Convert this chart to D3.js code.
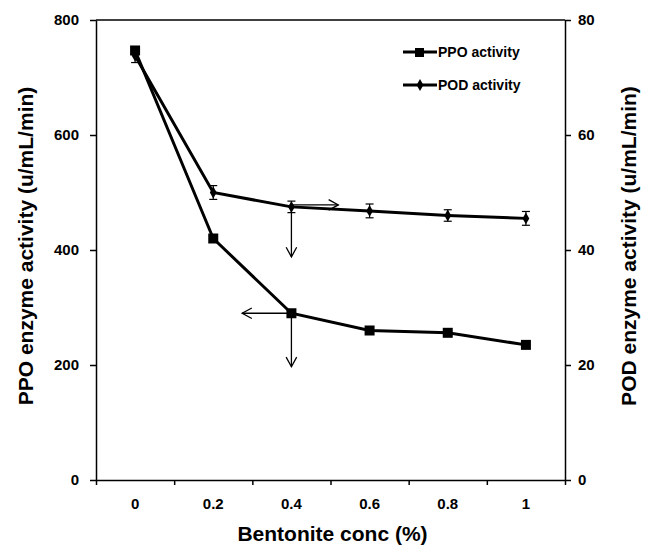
<!DOCTYPE html>
<meta charset="utf-8">
<head>
    <script src="https://d3js.org/d3.v7.min.js"></script>
</head>
<style>
    body { margin: 0; background: white; }
    text { font-family: 'Liberation Sans', Arial, sans-serif; font-weight: bold; }
    .axis-label { font-size: 21px; }
    .legend-label { font-size: 14px; }
</style>
<div id="my_dataviz"></div>
<script>

    // data
    var concs = ["0", "0.2", "0.4", "0.6", "0.8", "1"];
    var ppo = [747, 420, 290, 260, 256, 235];
    var pod = [73.8, 50, 47.5, 46.8, 46, 45.5];
    var podErr = [1.2, 1.2, 1.0, 1.2, 1.0, 1.2];
    var leftTicks = [0, 200, 400, 600, 800];
    var rightTicks = [0, 20, 40, 60, 80];

    var W = 646, H = 549;
    var plotL = 96, plotR = 565, plotT = 20, plotB = 480;

    var svg = d3.select("#my_dataviz")
        .append("svg")
        .attr("width", W)
        .attr("height", H);

    // scales
    var x = d3.scaleBand().domain(concs).range([plotL, plotR]).padding(0);
    var xb = d3.scaleLinear().domain([0, concs.length]).range([plotL, plotR]);
    var yL = d3.scaleLinear().domain([0, 800]).range([plotB, plotT]);
    var yR = d3.scaleLinear().domain([0, 80]).range([plotB, plotT]);
    var cx = function (c) { return x(c) + x.bandwidth() / 2; };

    // frame top line
    svg.append("line")
        .attr("x1", plotL).attr("x2", plotR)
        .attr("y1", plotT).attr("y2", plotT)
        .attr("stroke", "#000").attr("stroke-width", 1.5);

    // left axis
    svg.append("g")
        .attr("transform", "translate(" + plotL + ",0)")
        .call(d3.axisLeft(yL).tickValues(leftTicks).tickSize(6).tickPadding(11).tickSizeOuter(0));
    // right axis
    svg.append("g")
        .attr("transform", "translate(" + plotR + ",0)")
        .call(d3.axisRight(yR).tickValues(rightTicks).tickSize(6).tickPadding(7).tickSizeOuter(0));
    // bottom axis: ticks between categories
    svg.append("g")
        .attr("transform", "translate(0," + plotB + ")")
        .call(d3.axisBottom(xb).tickValues(d3.range(concs.length + 1)).tickFormat("").tickSize(5).tickSizeOuter(0));
    // bottom labels
    svg.append("g")
        .attr("transform", "translate(0," + plotB + ")")
        .call(d3.axisBottom(x).tickSize(0).tickPadding(18))
        .select(".domain").remove();

    svg.selectAll(".domain, .tick line").attr("stroke", "#000").attr("stroke-width", 1.5);
    svg.selectAll(".tick text")
        .attr("fill", "#000")
        .style("font-size", "15px");

    // axis titles
    svg.append("text")
        .attr("class", "axis-label")
        .attr("text-anchor", "middle")
        .attr("x", (plotL + plotR) / 2 + 2)
        .attr("y", 541)
        .text("Bentonite conc (%)");
    svg.append("text")
        .attr("class", "axis-label")
        .attr("text-anchor", "middle")
        .attr("transform", "translate(33,246) rotate(-90)")
        .text("PPO enzyme activity (u/mL/min)");
    svg.append("text")
        .attr("class", "axis-label")
        .attr("text-anchor", "middle")
        .attr("transform", "translate(636,246) rotate(-90)")
        .text("POD enzyme activity (u/mL/min)");

    // lines
    var linePPO = d3.line()
        .x(function (d, i) { return cx(concs[i]); })
        .y(function (d) { return yL(d); });
    var linePOD = d3.line()
        .x(function (d, i) { return cx(concs[i]); })
        .y(function (d) { return yR(d); });

    svg.append("path").datum(pod)
        .attr("d", linePOD)
        .attr("fill", "none").attr("stroke", "#000").attr("stroke-width", 3);
    svg.append("path").datum(ppo)
        .attr("d", linePPO)
        .attr("fill", "none").attr("stroke", "#000").attr("stroke-width", 3);

    // POD error bars
    var eb = svg.append("g").attr("stroke", "#000").attr("stroke-width", 1.2);
    pod.forEach(function (v, i) {
        var xx = cx(concs[i]);
        eb.append("line").attr("x1", xx).attr("x2", xx)
            .attr("y1", yR(v - podErr[i])).attr("y2", yR(v + podErr[i]));
        [v - podErr[i], v + podErr[i]].forEach(function (e) {
            eb.append("line").attr("x1", xx - 4).attr("x2", xx + 4)
                .attr("y1", yR(e)).attr("y2", yR(e));
        });
    });

    // markers
    svg.append("g").selectAll("rect")
        .data(ppo).enter().append("rect")
        .attr("x", function (d, i) { return cx(concs[i]) - 5; })
        .attr("y", function (d) { return yL(d) - 5; })
        .attr("width", 10).attr("height", 10)
        .attr("fill", "#000");
    var diamond = d3.symbol().type(d3.symbolDiamond).size(40);
    svg.append("g").selectAll("path")
        .data(pod).enter().append("path")
        .attr("d", diamond)
        .attr("transform", function (d, i) { return "translate(" + cx(concs[i]) + "," + yR(d) + ")"; })
        .attr("fill", "#000");

    // arrows pointing to the axis each series belongs to
    var arrowCat = "0.4";
    var ppoArrowX = 0.63;   // band fraction to the left
    var ppoArrowY = 197;    // PPO value reached by the down arrow
    var podArrowX = 0.6;    // band fraction to the right
    var podArrowY = 38.8;   // POD value reached by the down arrow

    function arrow(x1, y1, x2, y2) {
        var g = svg.append("g").attr("stroke", "#000").attr("stroke-width", 1.3).attr("fill", "none");
        g.append("line").attr("x1", x1).attr("y1", y1).attr("x2", x2).attr("y2", y2);
        var a = Math.atan2(y2 - y1, x2 - x1), L = 11, s = 0.5;
        g.append("path").attr("d",
            "M" + (x2 - L * Math.cos(a - s)) + "," + (y2 - L * Math.sin(a - s)) +
            "L" + x2 + "," + y2 +
            "L" + (x2 - L * Math.cos(a + s)) + "," + (y2 - L * Math.sin(a + s)));
    }
    var i4 = concs.indexOf(arrowCat);
    var ax = cx(arrowCat);
    arrow(ax, yL(ppo[i4]), ax - ppoArrowX * x.bandwidth(), yL(ppo[i4]));
    arrow(ax, yL(ppo[i4]), ax, yL(ppoArrowY));
    arrow(ax, yR(pod[i4]) - 2, ax + podArrowX * x.bandwidth(), yR(pod[i4]) - 2);
    arrow(ax, yR(pod[i4]), ax, yR(podArrowY));

    // legend
    var legend = svg.append("g").attr("transform", "translate(403,52)");
    legend.append("line").attr("x1", 0).attr("x2", 34).attr("y1", 0).attr("y2", 0)
        .attr("stroke", "#000").attr("stroke-width", 3);
    legend.append("rect").attr("x", 12).attr("y", -4).attr("width", 9).attr("height", 9).attr("fill", "#000");
    legend.append("text").attr("class", "legend-label").attr("x", 35).attr("y", 5).text("PPO activity");
    legend.append("line").attr("x1", 0).attr("x2", 34).attr("y1", 33).attr("y2", 33)
        .attr("stroke", "#000").attr("stroke-width", 3);
    legend.append("path").attr("d", diamond).attr("transform", "translate(17,33)").attr("fill", "#000");
    legend.append("text").attr("class", "legend-label").attr("x", 35).attr("y", 38).text("POD activity");

</script>
